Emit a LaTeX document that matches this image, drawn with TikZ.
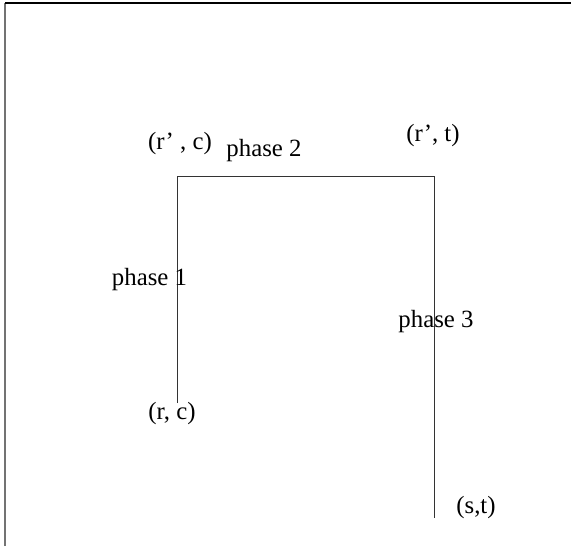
\documentclass[tikz,border=0pt]{standalone}
\usepackage{fontspec}
\setmainfont{Liberation Serif}

\begin{document}
\begin{tikzpicture}[x=0.5pt, y=-0.5pt, every node/.style={font=\fontsize{12.4}{14}\selectfont, inner sep=0pt}]
  \useasboundingbox (0,0) rectangle (571,546);

  % Cadre (haut et gauche)
  \draw[line width=0.6pt, black!55] (5,546) -- (5,3);
  \draw[line width=0.7pt] (5,3) -- (571,3);

  % Coins du chemin
  \coordinate (rc) at (177,403);
  \coordinate (rpc) at (177,176);
  \coordinate (rpt) at (434,176);
  \coordinate (st) at (434,518);

  % Chemin
  \draw[line width=0.5pt, black!80] (rc) -- (rpc) -- (rpt) -- (st);

  % Sommets
  \node (lrpc) at (180,144) {(r’ , c)};
  \node (lrpt) at (433,136) {(r’, t)};
  \node (lrc) at (172,414) {(r, c)};
  \node (lst) at (476,508) {(s,t)};

  % Phases
  \node (ph1) at (149.5,280) {phase 1};
  \node (ph2) at (264,151) {phase 2};
  \node (ph3) at (436,322) {phase 3};
\end{tikzpicture}
\end{document}
